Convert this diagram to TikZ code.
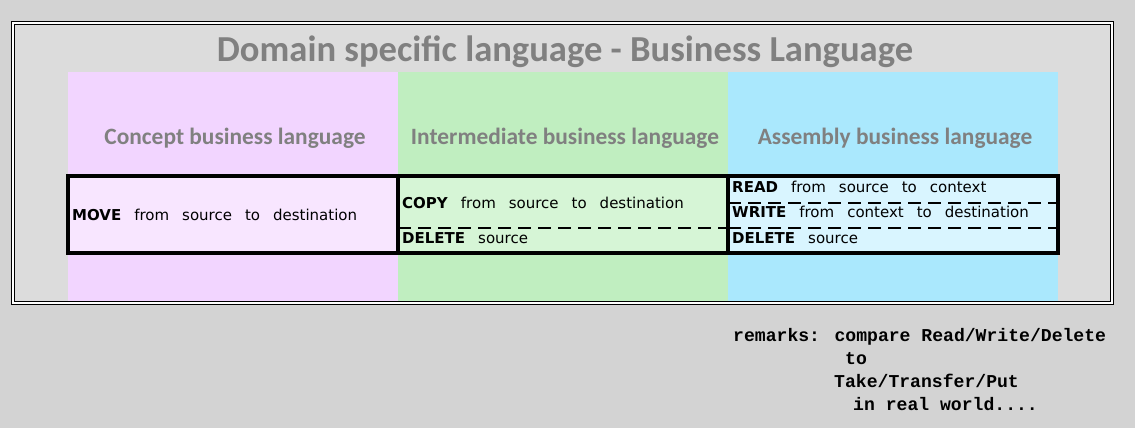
\documentclass[tikz,border=0pt]{standalone}
\usepackage{fontspec}
\usepackage{tikz}
\usetikzlibrary{positioning}
\newfontfamily\headfont{Carlito}
\newfontfamily\cmdfont{DejaVu Sans}
\newfontfamily\remfont{Liberation Mono}
\newcommand{\widewords}{\spaceskip=13pt plus 1pt\relax}
\definecolor{pagebg}{HTML}{D3D3D3}
\definecolor{framebg}{HTML}{DCDCDC}
\definecolor{headgray}{HTML}{808080}
\definecolor{conceptbg}{HTML}{F2D5FF}
\definecolor{interbg}{HTML}{C0EEC0}
\definecolor{asmbg}{HTML}{AAE8FD}
\definecolor{conceptrow}{HTML}{F8E6FF}
\definecolor{interrow}{HTML}{D6F5D6}
\definecolor{asmrow}{HTML}{D9F5FF}
\tikzset{
  frame/.style={draw, line width=1pt, fill=white,
    minimum width=1102pt, minimum height=282pt, inner sep=0pt, outer sep=0pt},
  framein/.style={draw, line width=1pt, fill=framebg,
    minimum width=1096pt, minimum height=276pt, inner sep=0pt, outer sep=0pt},
  title/.style={font=\headfont\bfseries\fontsize{36.6}{40}\selectfont, text=headgray},
  col/.style={minimum width=330pt, minimum height=229pt, inner sep=0pt, outer sep=0pt},
  head/.style={font=\headfont\bfseries\fontsize{23.4}{26}\selectfont, text=headgray},
  rowbox/.style={draw, line width=3.2pt, minimum width=330pt, minimum height=77pt,
    inner sep=0pt, outer sep=0pt},
  cmd/.style={anchor=west, inner sep=0pt, font=\cmdfont\fontsize{15}{17}\selectfont},
  sep/.style={line width=2pt, dash pattern=on 13pt off 7pt},
  rem/.style={anchor=base west, inner sep=0pt, font=\remfont\bfseries\fontsize{18.1}{22}\selectfont},
}

\begin{document}
\begin{tikzpicture}[x=1pt, y=-1pt]
  \fill[pagebg] (0,0) rectangle (1135,428);
  \useasboundingbox (0,0) rectangle (1135,428);
  % ---- frame and title ----
  \node[frame] (frame) at (562,163) {};
  \node[framein] (framein) at (frame.center) {};
  \node[title] (title) at (565,52) {Domain specific language - Business Language};

  % ---- three language columns ----
  \node[col, fill=conceptbg] (concept) at (233,186.5) {};
  \node[col, fill=interbg, right=0pt of concept] (inter) {};
  \node[col, fill=asmbg, right=0pt of inter] (asm) {};
  \node[head] (concepthead) at ([xshift=2pt, yshift=-66pt]concept.north) {Concept business language};
  \node[head] (interhead) at ([xshift=2pt, yshift=-66pt]inter.north) {Intermediate business language};
  \node[head] (asmhead) at ([xshift=2pt, yshift=-66pt]asm.north) {Assembly business language};

  % ---- instruction rows ----
  \node[rowbox, fill=conceptrow] (moverow) at (233,214.5) {};
  \node[rowbox, fill=interrow, right=0pt of moverow] (copyrow) {};
  \node[rowbox, fill=asmrow, right=0pt of copyrow] (rwdrow) {};
  \draw[sep] (copyrow.west |- 0,228) -- (copyrow.east |- 0,228);
  \draw[sep] (rwdrow.west |- 0,203) -- (rwdrow.east |- 0,203);
  \draw[sep] (rwdrow.west |- 0,228) -- (rwdrow.east |- 0,228);

  \node[cmd] (move) at ([xshift=4pt]moverow.west) {\widewords\textbf{MOVE} from source to destination};
  \node[cmd] (copy) at ([xshift=4pt]copyrow.west |- 0,203) {\widewords\textbf{COPY} from source to destination};
  \node[cmd] (idelete) at ([xshift=4pt]copyrow.west |- 0,238) {\widewords\textbf{DELETE} source};
  \node[cmd] (read) at ([xshift=4pt]rwdrow.west |- 0,187) {\widewords\textbf{READ} from source to context};
  \node[cmd] (write) at ([xshift=4pt]rwdrow.west |- 0,212) {\widewords\textbf{WRITE} from context to destination};
  \node[cmd] (adelete) at ([xshift=4pt]rwdrow.west |- 0,238) {\widewords\textbf{DELETE} source};

  % ---- remarks ----
  \node[rem] (rem1) at (733,341) {remarks: compare Read/Write/Delete};
  \node[rem] (rem2) at (845,364) {to};
  \node[rem] (rem3) at (834,387) {Take/Transfer/Put};
  \node[rem] (rem4) at (853,410) {in real world....};
\end{tikzpicture}
\end{document}
